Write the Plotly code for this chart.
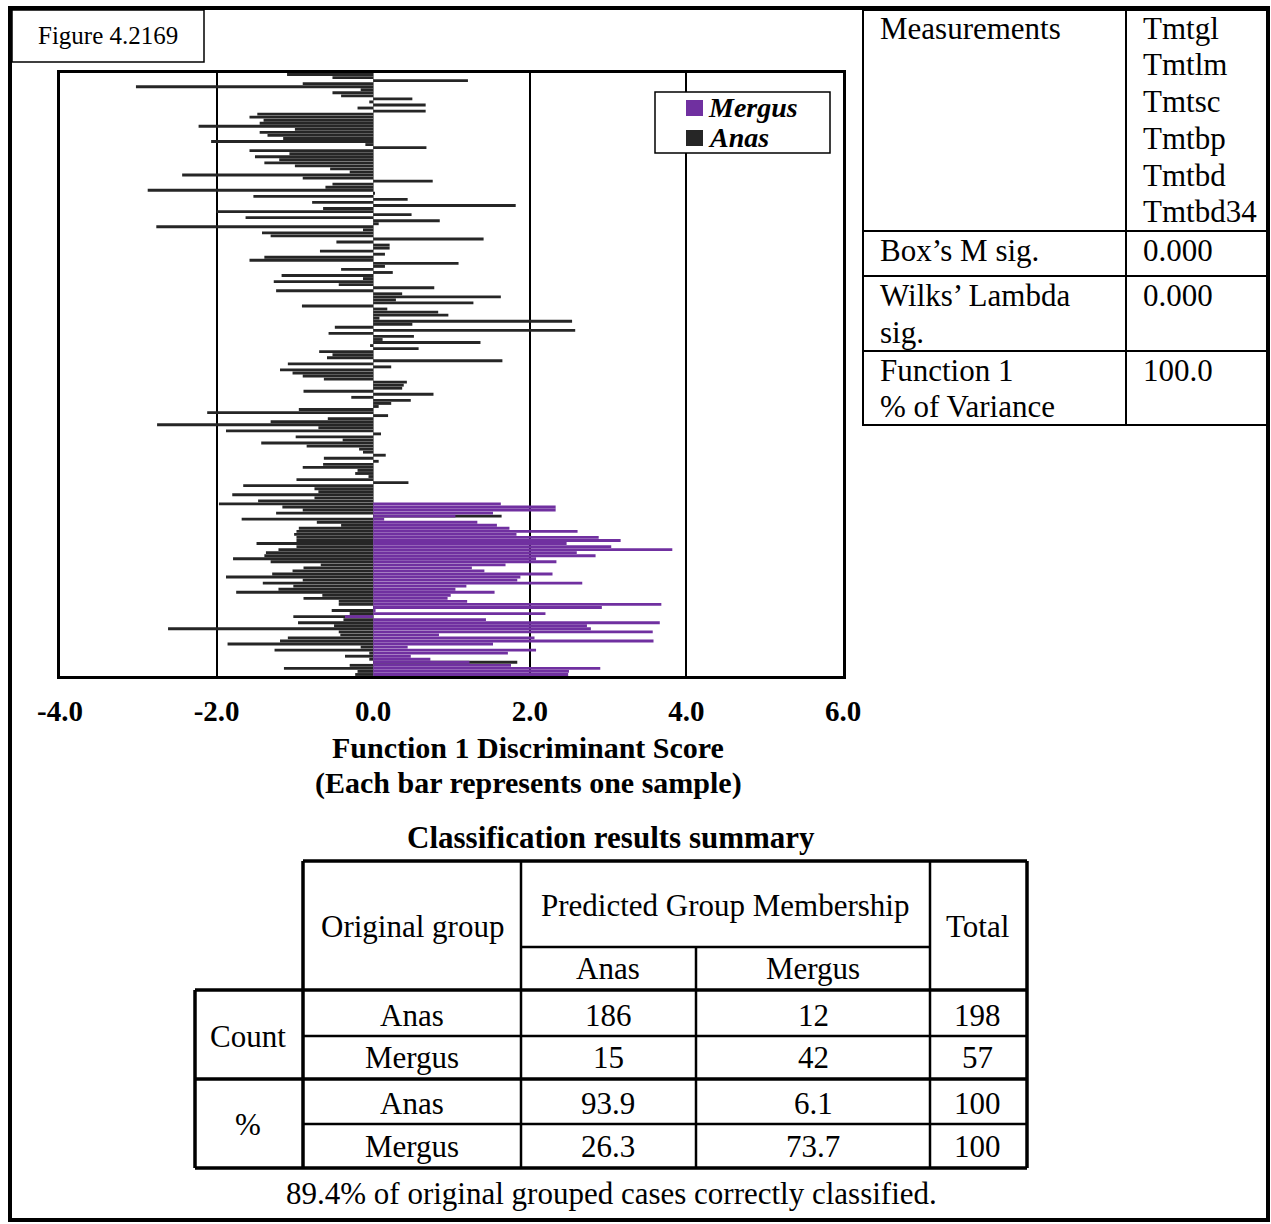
import plotly.graph_objects as go

# ---------------- data ----------------
anas_scores = [
    -1.10, -0.52, 1.21, -0.90, -3.03, -0.16, -0.52, -0.41, 0.50, -0.05, 0.67, -0.20, 0.67, -1.48, -1.58, -1.40, -1.45,
    -2.23, -1.00, -1.45, -1.35, -1.15, -2.07, -0.10, 0.68, -1.58, -1.07, -1.51, -1.20, -1.39, -1.00, -0.55, -0.30, -2.44,
    -0.90, 0.76, -0.52, -0.61, -2.88, 0.02, -1.53, 0.44, -0.78, 1.82, -0.64, -2.00, 0.49, -1.63, 0.85, 0.07, -2.77,
    -0.13, -1.42, -1.31, 1.41, -0.47, 0.21, 0.21, -0.68, 0.15, -1.39, -1.58, 1.09, 0.15, -0.41, 0.25, -1.17,
    -0.13, -1.27, -0.44, 0.78, -1.24, 0.37, 1.63, 0.29, 1.28, -0.91, 0.18, 0.83, 0.96, 0.08, 2.54, 0.50, -0.49,
    2.58, -0.57, 0.52, 0.12, 1.37, -0.04, 0.58, -0.69, -0.52, -0.59, 1.65, -1.09, 0.23, -1.19, -1.03, -0.90,
    -0.63, 0.43, 0.39, 0.37, -0.89, 0.77, -0.28, 0.48, 0.23, 0.07, -0.95, -2.12, 0.19, -0.58, -1.31, -2.76,
    -0.70, -1.88, 0.10, -0.99, -0.39, -1.43, -0.85, -0.18, -0.13, 0.16, -0.63, 0.07, -0.64, -0.90, -0.20, -0.23,
    -0.06, -0.98, 0.45, -1.66, -0.75, -0.70, -1.80, -0.75, -1.47, -1.97, -1.16, -0.90, -1.24, 1.64, -1.68, -0.72,
    -0.41, -0.95, -0.98, -1.01, -0.98, -0.98, -1.49, -0.98, -1.21, -1.37, -1.39, -1.79, -1.31, -0.67, -0.89, -1.03, -1.29,
    -1.88, -0.90, -1.41, -1.02, -1.21, -1.75, -0.65, -0.89, -0.44, -0.44, 0.95, -0.53, -0.30, -1.02, -0.38, -0.96,
    -0.50, -2.62, -0.44, -0.42, -1.09, -1.19, -1.86, -0.16, -1.26, -0.05, -0.36, -0.05, 1.84, -0.30, -1.14, -0.20, -0.23,
]
mergus_scores = [
    1.63, 2.33, 2.33, 1.53, 1.05, 0.14, 1.33, 1.58, 1.74, 2.61, 1.83, 2.88, 3.16, 2.47, 3.04, 3.82, 2.60, 2.84,
    2.08, 2.34, 1.69, 1.26, 1.42, 2.29,
    1.88, 1.84, 2.67, 1.19, 1.05, 1.55, 0.99, 0.95, 1.20, 3.68, 2.92, 0.03, 2.20, -0.36, 1.44, 3.66, 2.73, 2.78,
    3.57, 0.84, 2.06, 3.58, 1.53, 0.44, 2.08, 1.72, 0.48, 0.73, 1.23, 1.76, 2.90, 2.50, 2.49,
]
anas_rows = list(range(len(anas_scores)))
mergus_rows = list(range(len(anas_scores) - len(mergus_scores), len(anas_scores)))

series_names = ["Mergus", "Anas"]
series_colors = {"Anas": "#262626", "Mergus": "#7030A0"}

tick_values = [-4, -2, 0, 2, 4, 6]
tick_labels = ["-4.0", "-2.0", "0.0", "2.0", "4.0", "6.0"]

measurements = ["Tmtgl", "Tmtlm", "Tmtsc", "Tmtbp", "Tmtbd", "Tmtbd34"]
stats_labels = [["Box\u2019s M sig."], ["Wilks\u2019 Lambda", "sig."], ["Function 1", "% of Variance"]]
stats_values = ["0.000", "0.000", "100.0"]

orig_groups = ["Anas", "Mergus", "Anas", "Mergus"]
pred_anas = ["186", "15", "93.9", "26.3"]
pred_mergus = ["12", "42", "6.1", "73.7"]
totals = ["198", "57", "100", "100"]

# ---------------- geometry helpers ----------------
W, H = 1271, 1224
L, R, T, B = 60, 843, 73, 676
SERIF = "Liberation Serif, Times New Roman, serif"


def fx(px):
    return (px - L) / (R - L)


def fy(py):
    return (B - py) / (B - T)


fig = go.Figure()
fig.add_trace(go.Bar(x=anas_scores, y=anas_rows, orientation="h", name="Anas",
                     marker=dict(color=series_colors["Anas"], line=dict(width=0))))
fig.add_trace(go.Bar(x=mergus_scores, y=mergus_rows, orientation="h", name="Mergus",
                     marker=dict(color=series_colors["Mergus"], line=dict(width=0))))

shapes = []


def line(x0, y0, x1, y1, w=2):
    shapes.append(dict(type="line", xref="paper", yref="paper", x0=fx(x0), y0=fy(y0), x1=fx(x1), y1=fy(y1),
                       line=dict(color="black", width=w), layer="above"))


def rect(x0, y0, x1, y1, w=2, fill="rgba(0,0,0,0)", color="black"):
    shapes.append(dict(type="rect", xref="paper", yref="paper", x0=fx(x0), y0=fy(y0), x1=fx(x1), y1=fy(y1),
                       line=dict(color=color, width=w), fillcolor=fill, layer="above"))


annotations = []


def text(s, x, y, size=31, anchor="center", bold=False, italic=False):
    annotations.append(dict(text=s, xref="paper", yref="paper", x=fx(x), y=fy(y), xanchor=anchor,
                            yanchor="middle", showarrow=False,
                            font=dict(family=SERIF, size=size, color="black",
                                      weight="bold" if bold else "normal",
                                      style="italic" if italic else "normal")))


# outer frame and figure label
rect(10, 8, 1268, 1220, 4)
rect(12, 10, 204, 62, 1.5)
text("Figure 4.2169", 108, 35, size=25)

# legend box (drawn)
rect(655, 92, 830, 153, 1.5, fill="white")
for i, name in enumerate(series_names):
    yc = 108 + 30 * i
    rect(686, yc - 8, 703, yc + 8, 0, fill=series_colors[name], color=series_colors[name])
    text(name, 706, yc, size=28, anchor="left", bold=True, italic=True)

# axis title
text("Function 1 Discriminant Score", 528, 748, size=30, bold=True)
text("(Each bar represents one sample)", 528, 783, size=30, bold=True)

# right-hand table
rect(863, 10, 1268, 425, 2)
line(1126, 10, 1126, 425)
for yy in [231, 276, 351]:
    line(863, yy, 1268, yy)
text("Measurements", 878, 28, anchor="left")
for i, m in enumerate(measurements):
    text(m, 1141, 28 + 36.8 * i, anchor="left")
row_tops = [250, 295, 370]
for lab, val, y0 in zip(stats_labels, stats_values, row_tops):
    for j, part in enumerate(lab):
        text(part, 878, y0 + 37 * j, anchor="left")
    text(val, 1141, y0, anchor="left")

# classification table
text("Classification results summary", 611, 838, bold=True)
line(303, 861, 1027, 861, 3.5)
line(303, 861, 303, 1168, 3.5)
line(1027, 861, 1027, 1168, 3.5)
line(195, 990, 1027, 990, 3.5)
line(195, 1079, 1027, 1079, 3.5)
line(195, 1168, 1027, 1168, 3.5)
line(195, 990, 195, 1168, 3.5)
line(521, 861, 521, 1168, 2.5)
line(930, 861, 930, 1168, 2.5)
line(696, 947, 696, 1168, 2.5)
line(521, 947, 930, 947, 2.5)
line(303, 1036, 1027, 1036, 2.5)
line(303, 1124, 1027, 1124, 2.5)

text("Original group", 412, 926)
text("Predicted Group Membership", 725, 905)
text("Total", 978, 926)
text("Anas", 608, 969)
text("Mergus", 813, 969)
text("Count", 248, 1036)
text("%", 248, 1124)
for g, a, m, t, yy in zip(orig_groups, pred_anas, pred_mergus, totals, [1015, 1057, 1103, 1146]):
    text(g, 412, yy)
    text(a, 608, yy)
    text(m, 813, yy)
    text(t, 978, yy)
text("89.4% of original grouped cases correctly classified.", 611, 1193)

fig.update_layout(
    width=W, height=H,
    margin=dict(l=L, r=W - R, t=T, b=H - B, pad=0),
    paper_bgcolor="white", plot_bgcolor="white",
    barmode="overlay", bargap=0.06,
    showlegend=False,
    xaxis=dict(range=[-4, 6], tickvals=tick_values, ticktext=tick_labels,
               showgrid=True, gridcolor="black", gridwidth=2,
               zeroline=True, zerolinecolor="#9a9a9a", zerolinewidth=1,
               showline=True, mirror=True, linecolor="black", linewidth=3,
               ticks="", ticklabelstandoff=7,
               tickfont=dict(family=SERIF, size=29, color="black", weight="bold")),
    yaxis=dict(range=[len(anas_scores) - 0.5, -0.5], showticklabels=False, showgrid=False, zeroline=False,
               showline=True, mirror=True, linecolor="black", linewidth=3, ticks=""),
    shapes=shapes,
    annotations=annotations,
)

fig.write_html("out.html", config={"displayModeBar": False},
               post_script="document.body.style.margin='0';")
